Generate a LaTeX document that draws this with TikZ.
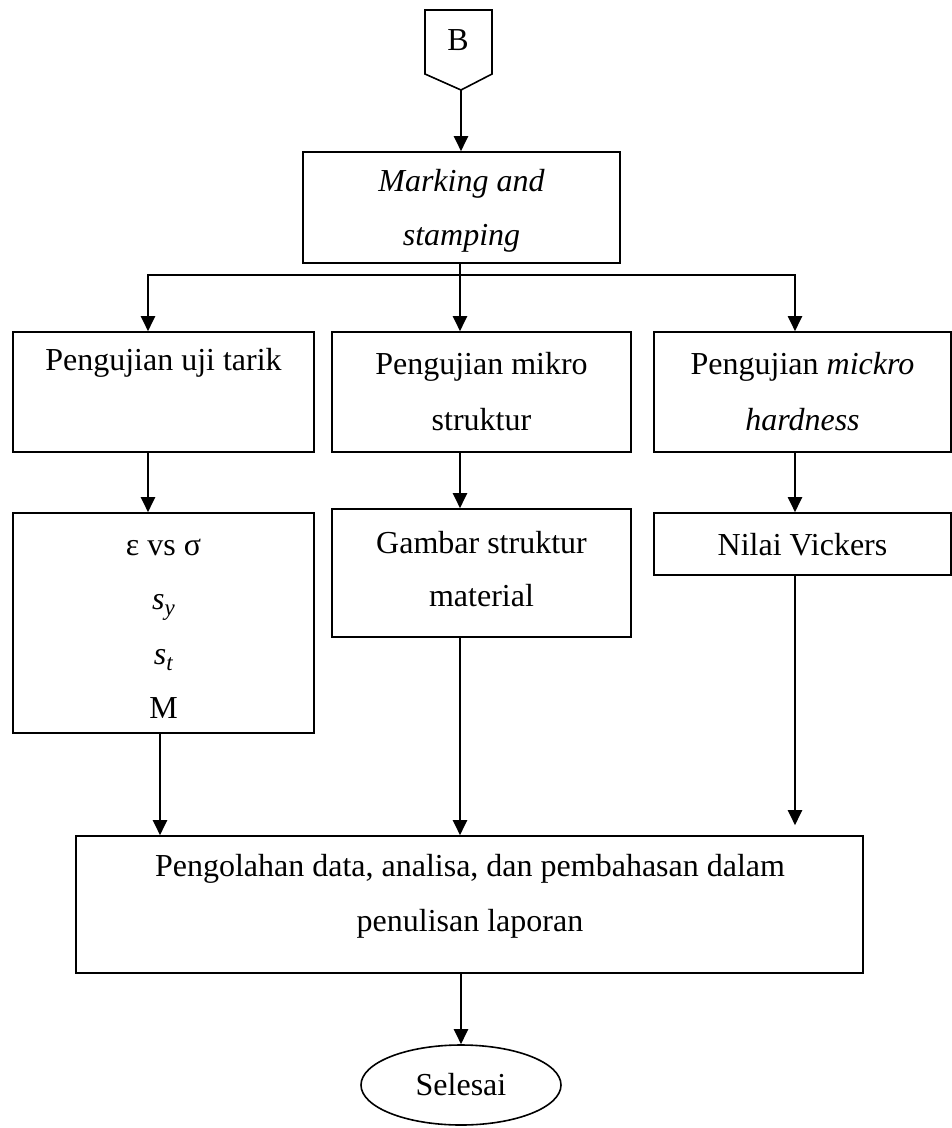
\documentclass[tikz,border=0pt]{standalone}
\usepackage{fontspec}
\setmainfont{Liberation Serif}
\usetikzlibrary{arrows.meta,shapes.geometric}
\newcommand{\subvar}[2]{\textit{#1}\raisebox{-6pt}{\fontsize{23}{23}\selectfont\textit{#2}}}
\tikzset{
  box/.style={draw, line width=1.6pt, inner sep=0pt, minimum width=#1},
  txt/.style={font=\fontsize{32}{#1}\selectfont, align=center, inner sep=0pt},
  txt/.default=38,
  conn/.style={line width=2pt},
  arr/.style={conn, -{Triangle[width=14pt,length=15pt]}},
  twoarr/.style={conn, {Triangle[width=14pt,length=15pt]}-{Triangle[width=14pt,length=15pt]}},
}
\begin{document}
\begin{tikzpicture}[x=1pt,y=-1pt]
\useasboundingbox (0,0) rectangle (952,1128);

% off-page connector B
\draw[line width=1.6pt, line join=miter] (425,10) -- (492,10) -- (492,74) -- (461,90) -- (425,74) -- cycle;
\node[txt] (B) at (458,40) {B};
\coordinate (Btip) at (461,90);

% boxes
\node[box=317pt, minimum height=111pt] (mark) at (461.5,207.5) {};
\node[box=301pt, minimum height=120pt] (t1) at (163.5,392) {};
\node[box=299pt, minimum height=120pt] (t2) at (481.5,392) {};
\node[box=297pt, minimum height=120pt] (t3) at (802.5,392) {};
\node[box=301pt, minimum height=220pt] (r1) at (163.5,623) {};
\node[box=299pt, minimum height=128pt] (r2) at (481.5,573) {};
\node[box=297pt, minimum height=62pt] (r3) at (802.5,544) {};
\node[box=787pt, minimum height=137pt] (fin) at (469.5,904.5) {};
\node[draw, line width=1.6pt, ellipse, minimum width=200pt, minimum height=80pt, inner sep=0pt] (end) at (461,1085) {};

% texts
\node[txt=54] (markT) at (461.5,211) {\textit{Marking and}\\\textit{stamping}};
\node[txt] (t1T) at (163.5,363) {Pengujian uji tarik};
\node[txt=56] (t2T) at (481.5,392) {Pengujian mikro\\struktur};
\node[txt=56] (t3T) at (802.5,392) {Pengujian \textit{mickro}\\\textit{hardness}};
\node[txt=54.5] (r1T) at (163.5,629) {ε vs σ\\\subvar{s}{y}\\\subvar{s}{t}\\M};
\node[txt=53] (r2T) at (481.5,569) {Gambar struktur\\material};
\node[txt] (r3T) at (802.5,545) {Nilai Vickers};
\node[txt=55] (finT) at (470,896) {Pengolahan data, analisa, dan pembahasan dalam\\penulisan laporan};
\node[txt] (endT) at (end) {Selesai};

% branch points
\coordinate (f1) at (148,275);
\coordinate (fork) at (460,275);
\coordinate (f3) at (795,275);

% connectors
\draw[arr] (Btip) -- (Btip |- mark.north);
\draw[twoarr] (f1 |- t1.north) -- (f1) -- (f3) -- (f3 |- t3.north);
\draw[arr] (fork |- mark.south) -- (fork |- t2.north);

\draw[arr] (f1 |- t1.south) -- (f1 |- r1.north);
\draw[arr] (fork |- t2.south) -- (fork |- r2.north);
\draw[arr] (f3 |- t3.south) -- (f3 |- r3.north);

\draw[arr] ([xshift=-3.5pt]r1.south) -- ([xshift=-3.5pt]r1.south |- fin.north);
\draw[arr] (fork |- r2.south) -- (fork |- fin.north);
\draw[arr, shorten >=10pt] (f3 |- r3.south) -- (f3 |- fin.north);

\draw[arr] (fin.south -| end) -- (end.north);
\end{tikzpicture}
\end{document}
